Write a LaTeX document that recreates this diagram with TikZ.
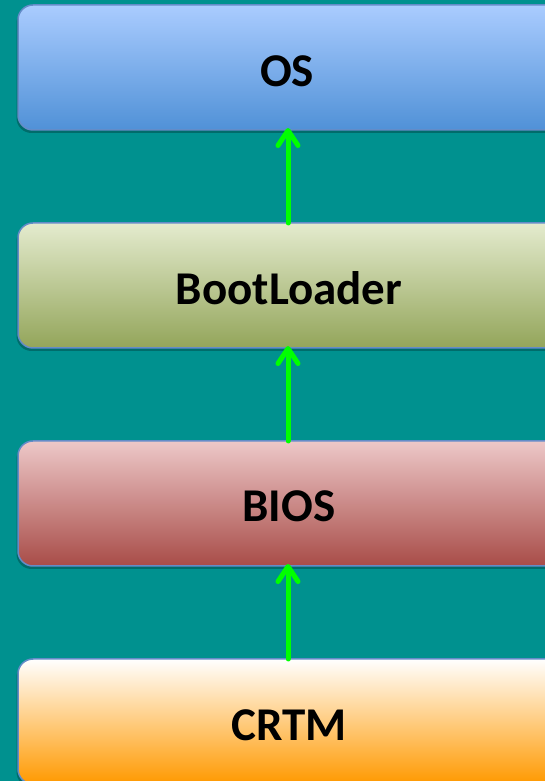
\documentclass[tikz,border=0pt]{standalone}
\usepackage{fontspec}
\setmainfont{Carlito}
\usetikzlibrary{arrows.meta,shadows,calc}
\definecolor{bgteal}{RGB}{0,145,143}
\definecolor{edgeblue}{RGB}{100,140,200}
\definecolor{arrgreen}{RGB}{0,255,0}
\definecolor{osTop}{RGB}{170,204,255}
\definecolor{osBot}{RGB}{80,145,215}
\definecolor{blTop}{RGB}{228,235,206}
\definecolor{blBot}{RGB}{147,165,90}
\definecolor{biTop}{RGB}{237,200,200}
\definecolor{biBot}{RGB}{168,76,72}
\definecolor{crTop}{RGB}{255,255,255}
\definecolor{crBot}{RGB}{255,153,0}
\tikzset{
  layerbox/.style={draw=edgeblue, line width=1.5bp, rounded corners=15bp,
    minimum width=560bp, minimum height=125bp, anchor=north west,
    inner sep=0pt, outer sep=0pt,
    drop shadow={shadow xshift=-1.5bp, shadow yshift=-3bp, opacity=0.25, fill=black}},
  layertext/.style={anchor=base, inner sep=0pt, font=\fontsize{47bp}{52bp}\selectfont\bfseries, text=black},
  uparrow/.style={draw=arrgreen, line width=5bp, line cap=round,
    -{Straight Barb[length=15bp,width=20bp,round]}}
}
\begin{document}
\begin{tikzpicture}[x=1bp,y=1bp]
\useasboundingbox (0,0) rectangle (545,781);
\clip (0,0) rectangle (545,781);
\fill[bgteal] (0,0) rectangle (545,781);
% boxes
\node[layerbox, top color=osTop, bottom color=osBot] (os) at (18,776) {};
\node[layerbox, top color=blTop, bottom color=blBot] (boot) at (18,558) {};
\node[layerbox, top color=biTop, bottom color=biBot] (bios) at (18,340) {};
\node[layerbox, top color=crTop, bottom color=crBot] (crtm) at (18,122) {};
% texts
\node[layertext] (osT) at (287,694) {OS};
\node[layertext] (bootT) at (289,476) {BootLoader};
\node[layertext] (biosT) at (289,259) {BIOS};
\node[layertext] (crtmT) at (289,40) {CRTM};
% arrows
\coordinate (ax) at (288,0);
\draw[uparrow] (boot.north -| ax) -- ($(os.south -| ax)+(0,2)$);
\draw[uparrow] (bios.north -| ax) -- ($(boot.south -| ax)+(0,2)$);
\draw[uparrow] (crtm.north -| ax) -- ($(bios.south -| ax)+(0,2)$);
\end{tikzpicture}
\end{document}
